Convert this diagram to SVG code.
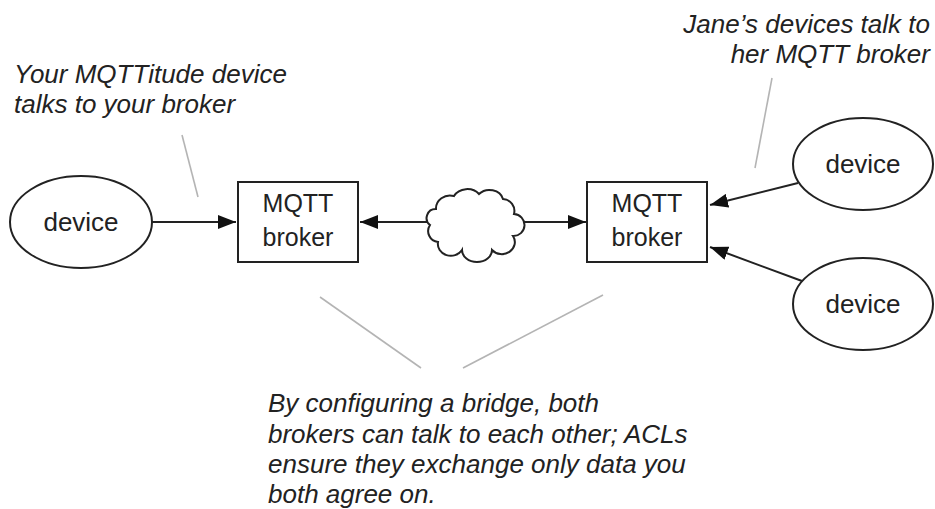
<svg xmlns="http://www.w3.org/2000/svg" width="935" height="509" viewBox="0 0 935 509">
  <style>
    .shape { fill: #fff; stroke: #222; stroke-width: 2; }
    .edge { fill: none; stroke: #222; stroke-width: 2; }
    .callout { fill: none; stroke: #b4b4b4; stroke-width: 1.6; }
    .label { font-family: "Liberation Sans", Arial, sans-serif; font-size: 25px; fill: #222; text-anchor: middle; }
    .dev { font-size: 26px; }
    .note { font-family: "Liberation Sans", Arial, sans-serif; font-size: 26px; font-style: italic; fill: #222; }
  </style>
  <defs>
    <marker id="arrow" viewBox="0 0 18 14" refX="18" refY="7" markerWidth="18" markerHeight="14" markerUnits="userSpaceOnUse" orient="auto">
      <path d="M0,0 L18,7 L0,14 z" fill="#111"/>
    </marker>
  </defs>
  <rect width="935" height="509" fill="#fff"/>

  <!-- annotations -->
  <g id="notes">
    <text class="note" x="14" y="83">Your MQTTitude device</text>
    <text class="note" x="14" y="113">talks to your broker</text>
    <text class="note" x="930" y="33" text-anchor="end">Jane’s devices talk to</text>
    <text class="note" x="930" y="63" text-anchor="end">her MQTT broker</text>
    <text class="note" x="268" y="412">By configuring a bridge, both</text>
    <text class="note" x="268" y="443">brokers can talk to each other; ACLs</text>
    <text class="note" x="268" y="473">ensure they exchange only data you</text>
    <text class="note" x="268" y="503">both agree on.</text>
  </g>

  <!-- connectors -->
  <g id="connectors">
    <line class="edge" x1="152" y1="222" x2="236" y2="222" marker-end="url(#arrow)"/>
    <line class="edge" x1="427" y1="222" x2="360" y2="222" marker-end="url(#arrow)"/>
    <line class="edge" x1="518" y1="222" x2="586" y2="222" marker-end="url(#arrow)"/>
    <line class="edge" x1="798" y1="183" x2="710" y2="205" marker-end="url(#arrow)"/>
    <line class="edge" x1="802" y1="281" x2="710" y2="247" marker-end="url(#arrow)"/>
    <line class="callout" x1="182" y1="135" x2="198" y2="197"/>
    <line class="callout" x1="772" y1="78" x2="755" y2="168"/>
    <line class="callout" x1="320" y1="297" x2="421" y2="368"/>
    <line class="callout" x1="603" y1="295" x2="463" y2="368"/>
  </g>

  <g id="device-mine">
    <ellipse class="shape" cx="81" cy="222" rx="71" ry="46"/>
    <text class="label dev" x="81" y="231">device</text>
  </g>

  <g id="broker-mine">
    <rect class="shape" x="238" y="182" width="120" height="80"/>
    <text class="label" x="298" y="212">MQTT</text>
    <text class="label" x="298" y="246">broker</text>
  </g>

  <g id="internet">
    <path class="shape" d="M436 209 A14 13 0 0 1 454 196 A15 13 0 0 1 479 194 A14 12 0 0 1 503 199 A12 12 0 0 1 514 214 A11 11 0 0 1 513 236 A13 12 0 0 1 492 250 A15 12 0 0 1 462 250 A13 12 0 0 1 438 242 A11 11 0 0 1 430 225 A9 9 0 0 1 436 209 Z"/>
  </g>

  <g id="broker-jane">
    <rect class="shape" x="587" y="182" width="120" height="80"/>
    <text class="label" x="647" y="212">MQTT</text>
    <text class="label" x="647" y="246">broker</text>
  </g>

  <g id="device-jane-1">
    <ellipse class="shape" cx="863" cy="164" rx="70" ry="46"/>
    <text class="label dev" x="863" y="173">device</text>
  </g>

  <g id="device-jane-2">
    <ellipse class="shape" cx="863" cy="304" rx="70" ry="46"/>
    <text class="label dev" x="863" y="313">device</text>
  </g>
</svg>
